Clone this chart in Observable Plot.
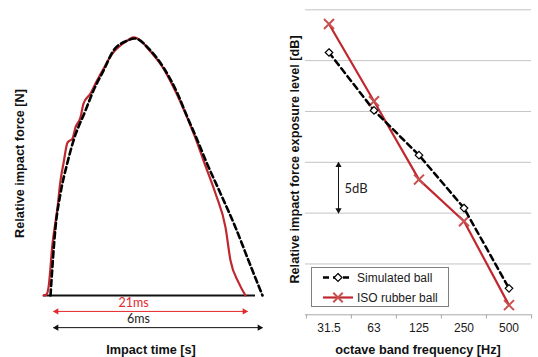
<!DOCTYPE html>
<html><head><meta charset="utf-8">
<script src="https://cdn.jsdelivr.net/npm/d3@7"></script>
<script src="https://cdn.jsdelivr.net/npm/@observablehq/plot@0.6"></script>
<style>
html,body{margin:0;padding:0;background:#fff;}
#wrap{position:relative;width:538px;height:357px;overflow:hidden;font-family:"Liberation Sans",Arial,sans-serif;}
#left,#right{position:absolute;top:0;}
#left{left:0;} #right{left:270px;}
#legend{position:absolute;left:311px;top:267px;width:136px;height:38px;border:1px solid #808080;background:#fff;}
#legend svg{display:block;}
</style></head><body>
<div id="wrap"><div id="left"></div><div id="right"></div><div id="legend"></div></div>
<script>
// ---- Left panel: impact force pulses (relative time, relative force) ----
const simTime  = [0.7, 1.2, 1.7, 2.4, 3.0, 4.2, 5.0, 6.0, 7.0, 8.4, 9.1, 10.7, 12.0, 13.4, 14.4, 15.4, 16.3, 17.7, 19.2, 20.5, 21.9];
const simForce = [0, 0.265, 0.397, 0.518, 0.603, 0.72, 0.798, 0.875, 0.953, 0.992, 1.0, 0.953, 0.887, 0.786, 0.693, 0.603, 0.518, 0.397, 0.265, 0.136, 0];
const isoTime  = [0, 0.3, 0.5, 0.9, 1.4, 1.7, 2.0, 2.4, 2.9, 3.2, 3.7, 4.0, 4.7, 5.2, 5.9, 6.9, 7.7, 8.4, 9.0, 9.7, 10.7, 12.0, 13.4, 14.4, 15.4, 16.0, 17.2, 18.2, 18.7, 19.5, 20.2];
const isoForce = [0, 0.004, 0.031, 0.202, 0.342, 0.447, 0.514, 0.595, 0.611, 0.654, 0.693, 0.747, 0.786, 0.825, 0.875, 0.942, 0.973, 0.992, 1.004, 0.992, 0.949, 0.883, 0.778, 0.689, 0.591, 0.525, 0.397, 0.265, 0.136, 0.051, 0];

// ---- Right panel: octave band levels [dB, relative] ----
const bands     = ["31.5", "63", "125", "250", "500"];
const simLevel  = [25.8, 20.1, 15.7, 10.5, 2.6];
const isoLevel  = [28.6, 21.0, 13.3, 9.2, 0.95];
const gridLevels = [5, 10, 15, 20, 25, 30];

const RED = "#c0282f";
const RED_MARK = "#c8504f";
const BRIGHT_RED = "#e4282c";
const SANS = '"Liberation Sans", Arial, sans-serif';
const CAL = 'Lato, "Open Sans", sans-serif';

const simPulse = simTime.map((t, i) => ({t, f: simForce[i]}));
const isoPulse = isoTime.map((t, i) => ({t, f: isoForce[i]}));

function hArrow(x1, x2, y, color) {
  return [
    Plot.link([0], {x1: x1, x2: x2, y1: y, y2: y, stroke: color, strokeWidth: 1}),
    Plot.dot([0], {x: x1, y: y, symbol: "triangle", r: 2.3, fill: color, stroke: null, rotate: -90, dx: 3}),
    Plot.dot([0], {x: x2, y: y, symbol: "triangle", r: 2.3, fill: color, stroke: null, rotate: 90, dx: -3})
  ];
}
const label = (txt, x, y, mt, ml, rotate = 0) =>
  Plot.text([txt], {frameAnchor: "top-left", dx: x - ml, dy: y - mt, rotate, text: d => d,
    textAnchor: "middle", lineAnchor: "middle", fontWeight: "bold", fontSize: 12.7, fill: "#111"});

const leftMT = 38, leftML = 43;
const left = Plot.plot({
  width: 270, height: 357,
  marginLeft: leftML, marginRight: 2, marginTop: leftMT, marginBottom: 62,
  x: {domain: [0, 22.5], axis: null},
  y: {domain: [0, 1], axis: null},
  style: {fontFamily: SANS, background: "transparent", overflow: "visible"},
  marks: [
    Plot.ruleY([0], {x1: 0, x2: 21.2, stroke: "#111", strokeWidth: 2}),
    Plot.line(isoPulse, {x: "t", y: "f", stroke: RED, strokeWidth: 2.2, curve: "monotone-x"}),
    Plot.line(simPulse, {x: "t", y: "f", stroke: "#000", strokeWidth: 2.6, strokeDasharray: "6,3.5", curve: "monotone-x"}),
    ...hArrow(1.0, 20.4, -0.062, BRIGHT_RED),
    ...hArrow(1.0, 21.9, -0.125, "#111"),
    Plot.text(["21ms"], {x: 9.0, y: -0.031, text: d => d, fill: BRIGHT_RED, fontSize: 12.5, fontFamily: CAL}),
    Plot.text(["6ms"], {x: 9.5, y: -0.093, text: d => d, fill: "#222", fontSize: 12.5, fontFamily: CAL}),
    label("Impact time [s]", 150.5, 349, leftMT, leftML),
    label("Relative impact force [N]", 19, 163, leftMT, leftML, -90)
  ]
});
document.getElementById("left").appendChild(left);

const rows = bands.map((b, i) => ({band: b, sim: simLevel[i], iso: isoLevel[i]}));
const rW = 268, rML = 35, rMR = 7, rMT = 9.3, rMB = 42.7;
const halfBand = (rW - rML - rMR) / bands.length / 2;
const first = () => bands[0];
const right = Plot.plot({
  width: rW, height: 357,
  marginLeft: rML, marginRight: rMR, marginTop: rMT, marginBottom: rMB,
  x: {type: "band", domain: bands, padding: 0},
  y: {domain: [0, 30], axis: null},
  style: {fontFamily: SANS, background: "transparent", overflow: "visible", color: "#1a1a1a"},
  marks: [
    Plot.ruleY(gridLevels, {stroke: "#c4c4c4", strokeWidth: 1}),
    Plot.ruleY([0], {stroke: "#a8a8a8", strokeWidth: 1}),
    Plot.ruleX(bands, {x: d => d, dx: -halfBand, y1: 0, y2: -0.42, stroke: "#a8a8a8"}),
    Plot.ruleX([bands[bands.length - 1]], {x: d => d, dx: halfBand, y1: 0, y2: -0.42, stroke: "#a8a8a8"}),
    Plot.axisX({tickSize: 0, tickPadding: 9, fontSize: 12, label: null}),
    Plot.line(rows, {x: "band", y: "iso", stroke: RED, strokeWidth: 2.2}),
    Plot.dot(rows, {x: "band", y: "iso", symbol: "times", r: 4.6, stroke: RED_MARK, strokeWidth: 2}),
    Plot.line(rows, {x: "band", y: "sim", stroke: "#000", strokeWidth: 2.5, strokeDasharray: "6,4"}),
    Plot.dot(rows, {x: "band", y: "sim", symbol: "diamond2", r: 3.4, fill: "#fff", stroke: "#000", strokeWidth: 1.2}),
    Plot.link([0], {x1: first, x2: first, y1: 15, y2: 10, dx: 9.5, stroke: "#111", strokeWidth: 1}),
    Plot.dot([0], {x: first, y: 15, dx: 9.5, dy: 3, symbol: "triangle", r: 2.3, fill: "#111", stroke: null}),
    Plot.dot([0], {x: first, y: 10, dx: 9.5, dy: -3, symbol: "triangle", r: 2.3, fill: "#111", stroke: null, rotate: 180}),
    Plot.text(["5dB"], {x: first, y: 12.4, dx: 15.5, text: d => d, textAnchor: "start", fontSize: 13, fontFamily: CAL, fill: "#222"}),
    label("octave band frequency [Hz]", 147.5, 349, rMT, rML),
    label("Relative impact force exposure level [dB]", 24, 159, rMT, rML, -90)
  ]
});
document.getElementById("right").appendChild(right);

// legend (series names)
const legendItems = [
  {name: "Simulated ball", stroke: "#000", dash: "6,4", width: 2.5, marker: "diamond"},
  {name: "ISO rubber ball", stroke: RED, dash: null, width: 2.2, marker: "times"}
];
const lg = d3.select("#legend").append("svg").attr("width", 136).attr("height", 38);
legendItems.forEach((it, i) => {
  const cy = 9.5 + i * 20;
  lg.append("line").attr("x1", 11).attr("x2", 41).attr("y1", cy).attr("y2", cy)
    .attr("stroke", it.stroke).attr("stroke-width", it.width).attr("stroke-dasharray", it.dash);
  if (it.marker === "diamond") {
    lg.append("path").attr("d", d3.symbol(d3.symbolDiamond2, 40)()).attr("transform", `translate(26,${cy})`)
      .attr("fill", "#fff").attr("stroke", "#000").attr("stroke-width", 1.2);
  } else {
    lg.append("path").attr("d", d3.symbol(d3.symbolTimes, 60)()).attr("transform", `translate(26,${cy})`)
      .attr("fill", "none").attr("stroke", RED_MARK).attr("stroke-width", 2);
  }
  lg.append("text").attr("x", 45).attr("y", cy).attr("dy", "0.35em").attr("font-size", 12)
    .attr("font-family", SANS).attr("fill", "#1a1a1a").text(it.name);
});
</script>
</body></html>
